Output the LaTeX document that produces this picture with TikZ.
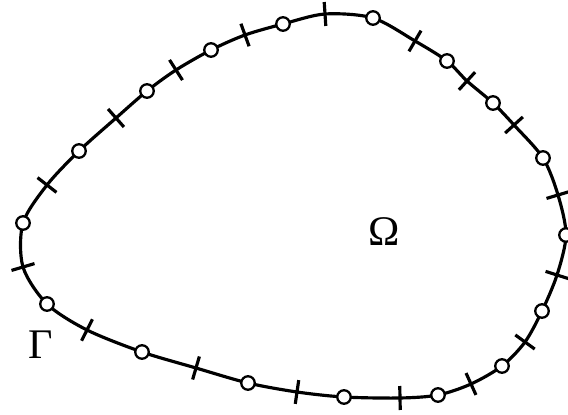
\documentclass[tikz,border=0pt]{standalone}
\usepackage{fontspec}
\setmainfont{Liberation Serif}
\usetikzlibrary{calc}

\tikzset{
  bnode/.style={circle,draw,fill=white,line width=1.3pt,inner sep=0pt,minimum size=0.27cm},
  elemtick/.style={line width=1.8pt,line cap=butt},
  domlabel/.style={font=\fontsize{24}{28}\selectfont}
}

\begin{document}
\begin{tikzpicture}[x=0.02cm,y=-0.02cm,line cap=round,line join=round]
  \useasboundingbox (0,0) rectangle (568,415);
  % nodes (c) and element ends (t) along the boundary
  \coordinate (c1) at (23,223);   \coordinate (t1) at (47,185);
  \coordinate (c2) at (79,151);   \coordinate (t2) at (116,118);
  \coordinate (c3) at (147,91);   \coordinate (t3) at (176,70);
  \coordinate (c4) at (211,50);   \coordinate (t4) at (245,35);
  \coordinate (c5) at (283,24);   \coordinate (t5) at (325,14);
  \coordinate (c6) at (373,18);   \coordinate (t6) at (415,41);
  \coordinate (c7) at (447,61);   \coordinate (t7) at (467,81);
  \coordinate (c8) at (493,103);  \coordinate (t8) at (514,125);
  \coordinate (c9) at (543,158);  \coordinate (t9) at (558,195);
  \coordinate (c10) at (566,235); \coordinate (t10) at (557,275);
  \coordinate (c11) at (542,311); \coordinate (t11) at (525,342);
  \coordinate (c12) at (502,366); \coordinate (t12) at (471,384);
  \coordinate (c13) at (438,395); \coordinate (t13) at (400,398);
  \coordinate (c14) at (344,397); \coordinate (t14) at (297,392);
  \coordinate (c15) at (248,383); \coordinate (t15) at (196,368);
  \coordinate (c16) at (142,352); \coordinate (t16) at (87,330);
  \coordinate (c17) at (47,304);  \coordinate (t17) at (23,267);
  \draw[line width=1.8pt] plot[smooth cycle] coordinates {(c1) (t1) (c2) (t2) (c3) (t3) (c4) (t4) (c5) (t5)
    (c6) (t6) (c7) (t7) (c8) (t8) (c9) (t9) (c10) (t10) (c11) (t11) (c12) (t12) (c13) (t13)
    (c14) (t14) (c15) (t15) (c16) (t16) (c17) (t17)};
  \foreach \i in {1,...,17}{
    \pgfmathtruncatemacro\j{mod(\i,17)+1}
    \draw[elemtick] let \p1=($(c\j)-(c\i)$), \n1={atan2(\y1,\x1)} in
      ($(t\i)+(\n1+90:0.24cm)$) -- ($(t\i)+(\n1-90:0.24cm)$);
  }
  \foreach \i in {1,...,17} \node[bnode] (n\i) at (c\i) {};
  \node[domlabel] (omega) at (384,232) {Ω};
  \node[domlabel] (gamma) at (41,345) {Γ};
\end{tikzpicture}
\end{document}
